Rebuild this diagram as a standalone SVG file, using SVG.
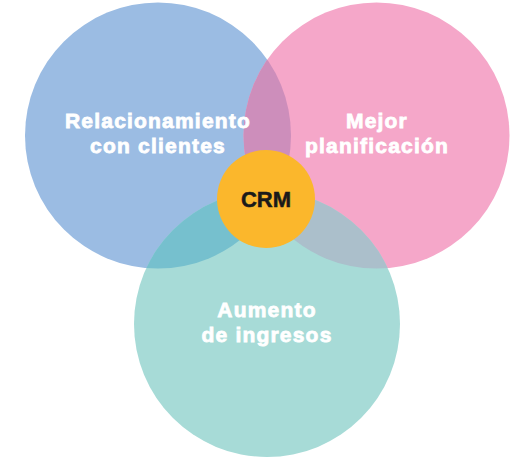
<svg xmlns="http://www.w3.org/2000/svg" width="515" height="467" viewBox="0 0 515 467">
<style>
.lbl{font-family:"Liberation Sans",Arial,sans-serif;font-weight:bold;font-size:21px;fill:#ffffff;stroke:#ffffff;stroke-width:0.8px;text-anchor:middle;letter-spacing:1.2px}
.crm{font-family:"Liberation Sans",Arial,sans-serif;font-weight:bold;font-size:22px;fill:#1a1a1a;stroke:#1a1a1a;stroke-width:0.5px;text-anchor:middle}
</style>
<defs>
<clipPath id="cBlue"><circle cx="158" cy="135.5" r="133"/></clipPath>
<clipPath id="cPink"><circle cx="376.5" cy="135.5" r="133"/></clipPath>
</defs>
<rect width="515" height="467" fill="#ffffff"/>
<g id="blue"><circle cx="158" cy="135.5" r="133" fill="#9bbce3"/></g>
<g id="pink"><circle cx="376.5" cy="135.5" r="133" fill="#f5a7c9"/></g>
<g id="teal"><circle cx="267" cy="324" r="133" fill="#a7dbd7"/></g>
<g id="overlaps">
<circle cx="376.5" cy="135.5" r="133" fill="#cd8ebb" clip-path="url(#cBlue)"/>
<circle cx="267" cy="324" r="133" fill="#76c0ce" clip-path="url(#cBlue)"/>
<circle cx="267" cy="324" r="133" fill="#abbfcb" clip-path="url(#cPink)"/>
</g>
<g id="crm">
<circle cx="266" cy="199" r="49" fill="#fbb72c"/>
<text class="crm" x="266" y="207">CRM</text>
</g>
<g id="labels">
<text class="lbl" x="158" y="128">Relacionamiento</text>
<text class="lbl" x="158" y="153">con clientes</text>
<text class="lbl" x="377" y="128">Mejor</text>
<text class="lbl" x="377" y="153">planificación</text>
<text class="lbl" x="267" y="317">Aumento</text>
<text class="lbl" x="267" y="342">de ingresos</text>
</g>
</svg>
